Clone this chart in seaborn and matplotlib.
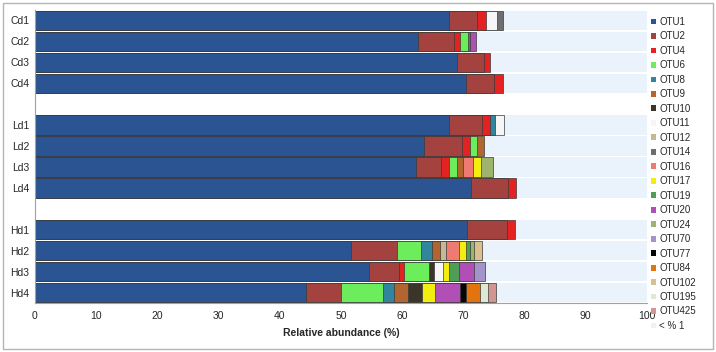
import numpy as np
import pandas as pd
import seaborn as sns
import matplotlib.pyplot as plt
from matplotlib.patches import Patch, Rectangle

# rows top to bottom, blank slots separate the groups
samples = ['Cd1', 'Cd2', 'Cd3', 'Cd4', 'Ld1', 'Ld2', 'Ld3', 'Ld4', 'Hd1', 'Hd2', 'Hd3', 'Hd4']
row_order = ['Cd1', 'Cd2', 'Cd3', 'Cd4', ' ', 'Ld1', 'Ld2', 'Ld3', 'Ld4', '  ', 'Hd1', 'Hd2', 'Hd3', 'Hd4']

otus = ['OTU1', 'OTU2', 'OTU4', 'OTU6', 'OTU8', 'OTU9', 'OTU10', 'OTU11', 'OTU12', 'OTU14', 'OTU16',
        'OTU17', 'OTU19', 'OTU20', 'OTU24', 'OTU70', 'OTU77', 'OTU84', 'OTU102', 'OTU195', 'OTU425']

#          Cd1   Cd2   Cd3   Cd4   Ld1   Ld2   Ld3   Ld4   Hd1   Hd2   Hd3   Hd4
otu1   = [67.7, 62.6, 68.9, 70.4, 67.6, 63.6, 62.2, 71.3, 70.6, 51.7, 54.5, 44.3]
otu2   = [4.6,  5.9,  4.4,  4.6,  5.5,  6.2,  4.2,  6.0,  6.6,  7.5,  4.9,  5.7]
otu4   = [1.4,  1.0,  1.0,  1.4,  1.2,  1.2,  1.2,  1.3,  1.2,  0,    0.9,  0]
otu6   = [0,    1.2,  0,    0,    0,    1.2,  1.3,  0,    0,    3.8,  4.0,  6.9]
otu8   = [0,    0,    0,    0,    0.9,  0,    0,    0,    0,    1.9,  0,    1.8]
otu9   = [0,    0,    0,    0,    0,    1.2,  1.0,  0,    0,    1.2,  0,    2.3]
otu10  = [0,    0,    0,    0,    0,    0,    0,    0,    0,    0,    0.9,  2.2]
otu11  = [1.8,  0,    0,    0,    1.4,  0,    0,    0,    0,    0,    1.5,  0]
otu12  = [0,    0,    0,    0,    0,    0,    0,    0,    0,    1.1,  0,    0]
otu14  = [1.0,  0.4,  0,    0,    0,    0,    0,    0,    0,    0,    0,    0]
otu16  = [0,    0,    0,    0,    0,    0,    1.6,  0,    0,    2.1,  0,    0]
otu17  = [0,    0,    0,    0,    0,    0,    1.4,  0,    0,    1.1,  1.0,  2.2]
otu19  = [0,    0,    0,    0,    0,    0,    0,    0,    0,    0.7,  1.5,  0]
otu20  = [0,    1.0,  0,    0,    0,    0,    0,    0,    0,    0,    2.5,  4.0]
otu24  = [0,    0,    0,    0,    0,    0,    2.0,  0,    0,    0.7,  0,    0]
otu70  = [0,    0,    0,    0,    0,    0,    0,    0,    0,    0,    1.9,  0]
otu77  = [0,    0,    0,    0,    0,    0,    0,    0,    0,    0,    0,    1.1]
otu84  = [0,    0,    0,    0,    0,    0,    0,    0,    0,    0,    0,    2.2]
otu102 = [0,    0,    0,    0,    0,    0,    0,    0,    0,    1.2,  0,    0]
otu195 = [0,    0,    0,    0,    0,    0,    0,    0,    0,    0,    0,    1.3]
otu425 = [0,    0,    0,    0,    0,    0,    0,    0,    0,    0,    0,    1.4]

colors = ['#2b5592', '#a4423f', '#e52222', '#6cee5c', '#31869e', '#b2652e', '#3b3428', '#f6f6f6',
          '#c4b896', '#6e6e6e', '#ef7a72', '#f2ee10', '#4f9e58', '#b04fb6', '#9db36e', '#a393c9',
          '#050505', '#e2740f', '#d9c08e', '#dfe8d2', '#d39590']
rest_color = '#eaf3fc'

values = [otu1, otu2, otu4, otu6, otu8, otu9, otu10, otu11, otu12, otu14, otu16,
          otu17, otu19, otu20, otu24, otu70, otu77, otu84, otu102, otu195, otu425]

df = pd.DataFrame(np.array(values).T, index=samples, columns=otus)
ends = df.cumsum(axis=1)

sns.set_style('white')
plt.rcParams['font.family'] = ['Liberation Sans', 'DejaVu Sans']

fig, ax = plt.subplots(figsize=(7.16, 3.52), dpi=100)
fig.subplots_adjust(left=35/716, right=647/716, bottom=1-303/352, top=1-10/352)

# remainder (< 1 %) fills each row up to 100
rest = pd.DataFrame({'sample': samples, 'end': 100.0})
sns.barplot(data=rest, x='end', y='sample', order=row_order, color=rest_color,
            saturation=1, width=0.92, linewidth=0, ax=ax)

# stacked by overlaying cumulative ends, last series first
for name, col in reversed(list(zip(otus, colors))):
    sub = pd.DataFrame({'sample': samples, 'end': ends[name].values, 'v': df[name].values})
    sub = sub[sub['v'] > 0]
    sns.barplot(data=sub, x='end', y='sample', order=row_order, color=col,
                saturation=1, width=0.92, edgecolor='#3a3a3a', linewidth=0.5, ax=ax)

ax.set_xlim(0, 100)
ax.set_ylim(13.5, -0.5)
ax.set_xticks(range(0, 101, 10))
ax.set_ylabel('')
ax.set_xlabel('Relative abundance (%)', fontsize=7.5, fontweight='bold', labelpad=5)
ax.tick_params(axis='x', length=3, color='#a0a0a0', labelsize=7.5, pad=3, direction='out')
ax.tick_params(axis='y', which='major', length=0, labelsize=7.5, pad=4)
ax.set_yticks(np.arange(-0.5, 14, 1), minor=True)
ax.tick_params(axis='y', which='minor', length=3, color='#a0a0a0', direction='out')
sns.despine(ax=ax)
for s in ['left', 'bottom']:
    ax.spines[s].set_color('#a0a0a0')
    ax.spines[s].set_linewidth(0.8)

handles = [Patch(facecolor=c, edgecolor='none') for c in colors] + [Patch(facecolor=rest_color, edgecolor='none')]
labels = otus + ['< % 1']
fig.legend(handles, labels, loc='upper left', bbox_to_anchor=(651/716, 1-17/352), frameon=False,
           fontsize=7, handlelength=0.55, handleheight=0.55, handletextpad=0.3,
           labelspacing=0.46, borderpad=0, borderaxespad=0)

fig.patches.append(Rectangle((3/716, 3/352), 710/716, 346/352, transform=fig.transFigure,
                             fill=False, edgecolor='#b4b4b4', linewidth=1))

fig.savefig('out.png', dpi=100)
